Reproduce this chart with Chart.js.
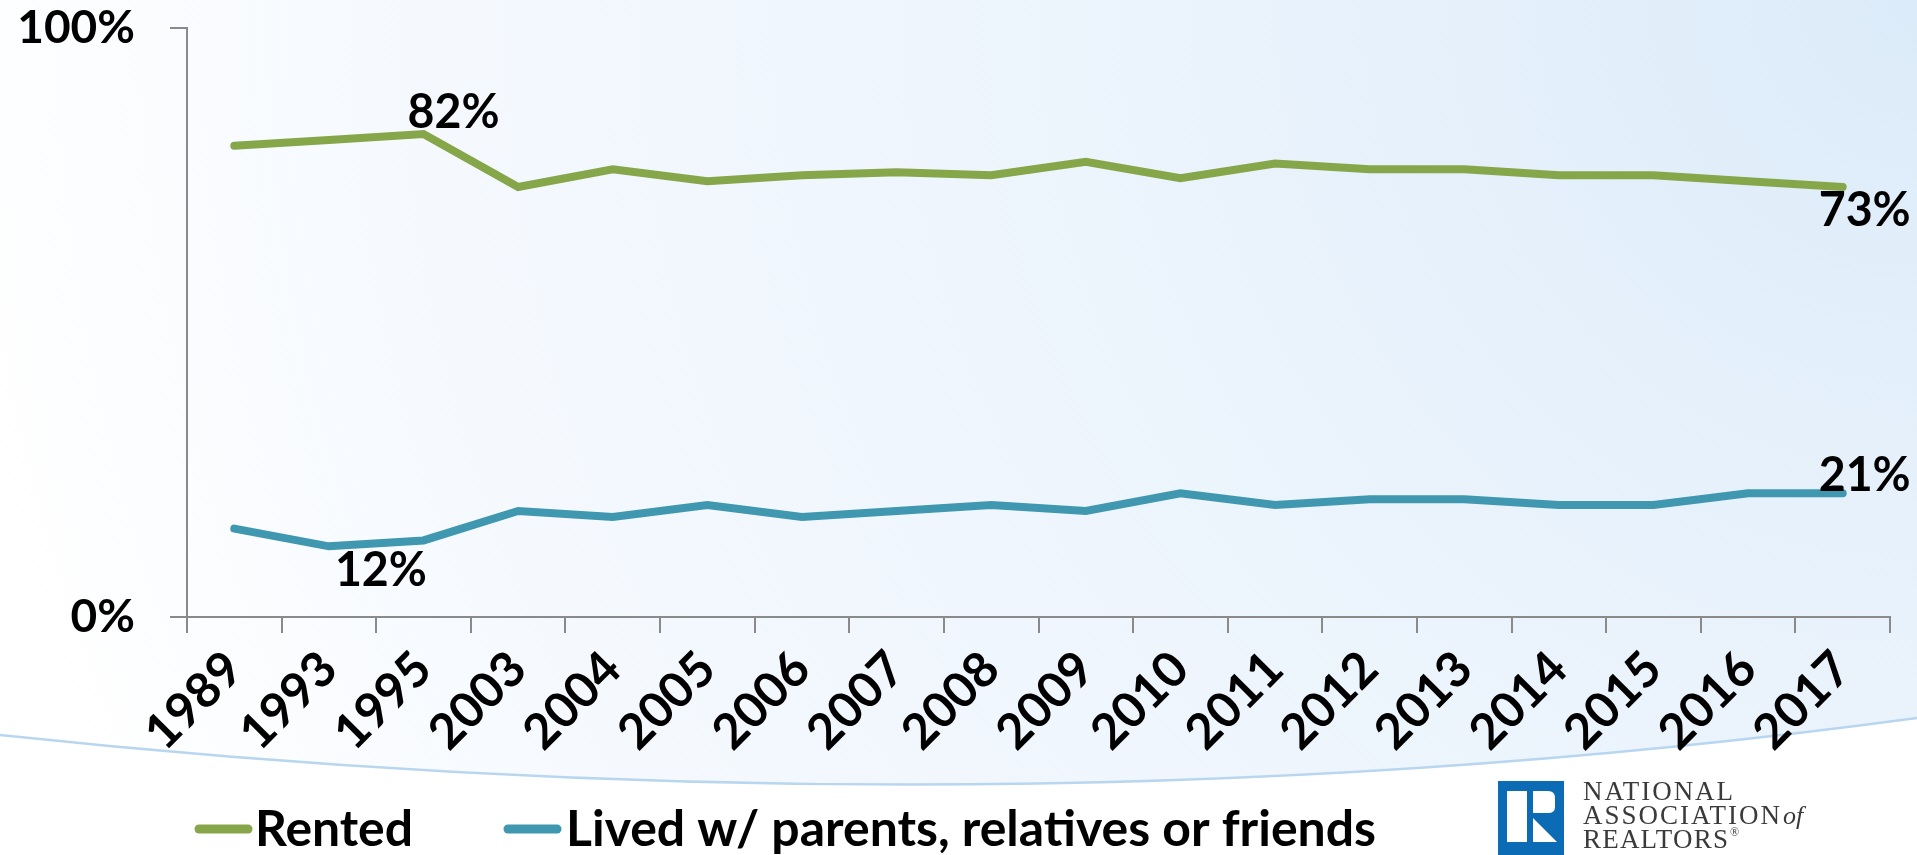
<!DOCTYPE html>
<html>
<head>
<meta charset="utf-8">
<title>Housing situation prior to first-time purchase</title>
<script src="https://cdn.jsdelivr.net/npm/chart.js@4.4.1/dist/chart.umd.min.js"></script>
<style>
  html, body { margin: 0; padding: 0; background: #ffffff; }
  #wrap { position: relative; width: 1917px; height: 855px; overflow: hidden; }
  #chart { position: absolute; left: 0; top: 0; }
  #logo { position: absolute; left: 1490px; top: 770px; }
</style>
</head>
<body>
<div id="wrap">
  <canvas id="chart" width="1917" height="855"></canvas>
  <svg id="logo" width="427" height="85" viewBox="0 0 427 85" xmlns="http://www.w3.org/2000/svg">
    <rect x="8" y="11" width="66" height="74" fill="#0b6cb5"/>
    <rect x="17" y="21" width="20" height="51" fill="#ffffff"/>
    <path d="M43 21 H58 Q65 21 65 28 V37 Q65 43 58 43 H43 Z" fill="#ffffff"/>
    <path d="M43 48 L67 72 H43 Z" fill="#ffffff"/>
    <g font-family="'Liberation Serif', 'DejaVu Serif', serif" fill="#3a3a3a">
      <text x="93" y="30" font-size="27" textLength="150" lengthAdjust="spacing">NATIONAL</text>
      <text x="93" y="54" font-size="27" textLength="197" lengthAdjust="spacing">ASSOCIATION</text>
      <text x="293" y="54" font-size="26" font-style="italic">of</text>
      <text x="93" y="78" font-size="27" textLength="145" lengthAdjust="spacing">REALTORS</text>
      <text x="240" y="66" font-size="12">®</text>
    </g>
  </svg>
</div>
<script>
// Survey years (category axis)
const years = ['1989', '1993', '1995', '2003', '2004', '2005', '2006', '2007', '2008',
               '2009', '2010', '2011', '2012', '2013', '2014', '2015', '2016', '2017'];

// Share of first-time buyers by prior living arrangement, percent
const rented = [80, 81, 82, 73, 76, 74, 75, 75.5, 75, 77.3, 74.5, 77, 76, 76, 75, 75, 74, 73];
const livedWithOthers = [15, 12, 13, 18, 17, 19, 17, 18, 19, 18, 21, 19, 20, 20, 19, 19, 21, 21];

// Series names and the y-axis tick values
const seriesNames = ['Rented', 'Lived w/ parents, relatives or friends'];
const yTickValues = [0, 100];

const GREEN = '#86a64a';
const TEAL = '#4097b0';
const AXIS_GREY = '#8a8a8a';
const LABEL_FONT = "Lato, 'Open Sans', sans-serif";

// Soft blue wash with a curved sweep near the bottom
const backdrop = {
  id: 'backdrop',
  beforeDraw(chart) {
    const { ctx, width, height } = chart;
    ctx.save();
    const g = ctx.createRadialGradient(width, 0, 0, width, 0, 2000);
    g.addColorStop(0, '#dcebf9');
    g.addColorStop(0.35, '#eaf3fc');
    g.addColorStop(0.75, '#f5f9fe');
    g.addColorStop(1, '#ffffff');
    ctx.fillStyle = g;
    ctx.fillRect(0, 0, width, height);

    const sweep = () => {
      ctx.beginPath();
      ctx.moveTo(0, 735);
      ctx.quadraticCurveTo(1000, 842, width, 718);
    };
    sweep();
    ctx.lineTo(width, height);
    ctx.lineTo(0, height);
    ctx.closePath();
    ctx.fillStyle = '#ffffff';
    ctx.fill();

    sweep();
    ctx.strokeStyle = '#b8d6ef';
    ctx.lineWidth = 2.5;
    ctx.stroke();
    ctx.restore();
  }
};

// Percent callouts on selected points
const callouts = {
  id: 'callouts',
  afterDatasetsDraw(chart) {
    const notes = [
      { ds: 0, i: 2, dx: 30, dy: -6 },
      { ds: 0, i: 17, dx: 22, dy: 39 },
      { ds: 1, i: 1, dx: 52, dy: 40 },
      { ds: 1, i: 17, dx: 22, dy: -2 }
    ];
    const { ctx } = chart;
    ctx.save();
    ctx.font = 'bold 47px ' + LABEL_FONT;
    ctx.fillStyle = '#000000';
    ctx.textAlign = 'center';
    ctx.textBaseline = 'alphabetic';
    notes.forEach(n => {
      const pt = chart.getDatasetMeta(n.ds).data[n.i];
      const value = chart.data.datasets[n.ds].data[n.i];
      ctx.fillText(Math.round(value) + '%', pt.x + n.dx, pt.y + n.dy, 92);
    });
    ctx.restore();
  }
};

// Legend along the bottom with rounded line swatches
const bottomLegend = {
  id: 'bottomLegend',
  afterDraw(chart) {
    const { ctx } = chart;
    const slots = [
      { x: 195, textX: 255, maxW: 158 },
      { x: 504, textX: 566, maxW: 810 }
    ];
    const y = 829;
    ctx.save();
    ctx.font = 'bold 50px ' + LABEL_FONT;
    ctx.textAlign = 'left';
    ctx.textBaseline = 'middle';
    chart.data.datasets.forEach((ds, k) => {
      const s = slots[k];
      ctx.beginPath();
      ctx.moveTo(s.x + 4, y);
      ctx.lineTo(s.x + 53, y);
      ctx.strokeStyle = ds.borderColor;
      ctx.lineWidth = 9;
      ctx.lineCap = 'round';
      ctx.stroke();
      ctx.fillStyle = '#000000';
      ctx.fillText(ds.label, s.textX, y + 1, s.maxW);
    });
    ctx.restore();
  }
};

function draw() {
  new Chart(document.getElementById('chart'), {
    type: 'line',
    data: {
      labels: years,
      datasets: [
        { label: seriesNames[0], data: rented, borderColor: GREEN, backgroundColor: GREEN },
        { label: seriesNames[1], data: livedWithOthers, borderColor: TEAL, backgroundColor: TEAL }
      ]
    },
    options: {
      responsive: false,
      animation: false,
      layout: { padding: { top: 28, right: 27, left: 0, bottom: 0 } },
      plugins: { legend: { display: false }, tooltip: { enabled: false } },
      elements: {
        point: { radius: 0, hoverRadius: 0 },
        line: { borderWidth: 8, borderCapStyle: 'round', borderJoinStyle: 'miter', tension: 0, fill: false }
      },
      scales: {
        x: {
          type: 'category',
          offset: true,
          grid: { offset: true, drawOnChartArea: false, drawTicks: true, tickLength: 16, color: AXIS_GREY, lineWidth: 2 },
          border: { display: true, color: AXIS_GREY, width: 2 },
          ticks: {
            autoSkip: false, minRotation: 45, maxRotation: 45, padding: 7,
            color: '#000000', font: { family: LABEL_FONT, weight: 'bold', size: 49 }
          },
          afterFit(scale) {
            scale.height = 238;
            scale.paddingLeft = 0;
            scale.paddingRight = 0;
          }
        },
        y: {
          min: 0, max: 100,
          afterBuildTicks(scale) { scale.ticks = yTickValues.map(v => ({ value: v })); },
          grid: { drawOnChartArea: false, drawTicks: true, tickLength: 17, color: AXIS_GREY, lineWidth: 2 },
          border: { display: true, color: AXIS_GREY, width: 2 },
          ticks: {
            padding: 35, color: '#000000',
            font: { family: LABEL_FONT, weight: 'bold', size: 46 },
            callback: v => v + '%'
          },
          afterFit(scale) {
            scale.width = 187;
            scale.paddingTop = 0;
            scale.paddingBottom = 0;
          }
        }
      }
    },
    plugins: [backdrop, callouts, bottomLegend]
  });
}

if (document.fonts && document.fonts.load) {
  Promise.all([
    document.fonts.load('bold 46px Lato'),
    document.fonts.load('27px "Liberation Serif"')
  ]).then(draw, draw);
} else {
  draw();
}
</script>
</body>
</html>
